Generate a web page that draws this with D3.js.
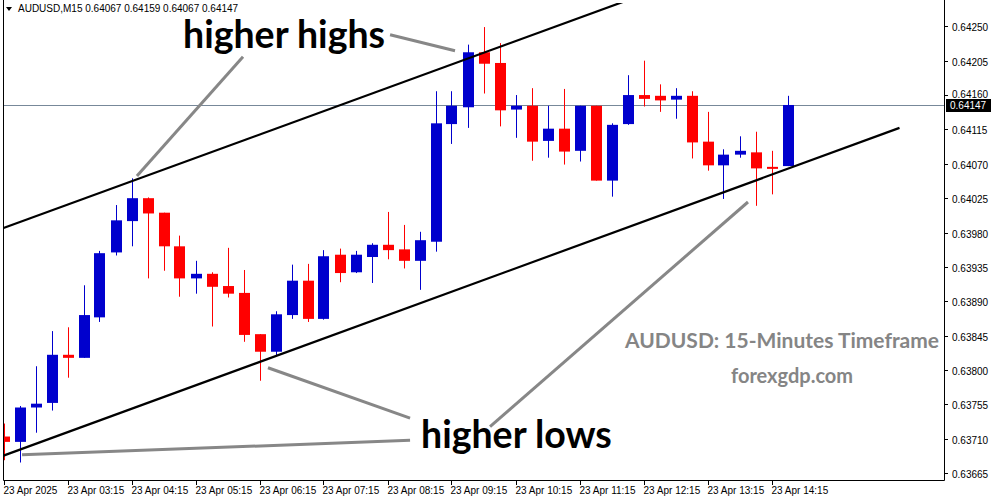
<!DOCTYPE html>
<html><head><meta charset="utf-8">
<script src="https://cdn.jsdelivr.net/npm/d3@7/dist/d3.min.js"></script>
<style>
html,body{margin:0;padding:0;background:#fff;}
svg{display:block;}
.ax{font-family:"Liberation Sans Narrow","Liberation Sans",Arial,sans-serif;font-size:10px;fill:#000;}
</style></head>
<body>
<svg id="c" width="991" height="501"></svg>
<script>
// ---- data (AUDUSD M15, 23 Apr 2025) ----
const barIndex = d3.range(50);
const open  = [0.63713,0.63706,0.63751,0.63757,0.63820,0.63816,0.63869,0.63954,0.63995,0.64025,
               0.64006,0.63962,0.63920,0.63926,0.63910,0.63901,0.63847,0.63824,0.63872,0.63917,
               0.63867,0.63951,0.63928,0.63948,0.63964,0.63958,0.63943,0.63968,0.64122,0.64144,
               0.64216,0.64202,0.64141,0.64146,0.64100,0.64116,0.64087,0.64146,0.64048,0.64122,
               0.64160,0.64159,0.64154,0.64159,0.64099,0.64068,0.64082,0.64085,0.64066,0.64067];
const high  = [0.63730,0.63753,0.63805,0.63851,0.63856,0.63911,0.63956,0.64016,0.64051,0.64026,
               0.64006,0.63976,0.63943,0.63928,0.63960,0.63931,0.63847,0.63877,0.63938,0.63939,
               0.63957,0.63959,0.63956,0.63966,0.64007,0.63990,0.63981,0.64165,0.64165,0.64226,
               0.64249,0.64228,0.64160,0.64169,0.64146,0.64168,0.64146,0.64146,0.64123,0.64186,
               0.64205,0.64174,0.64169,0.64165,0.64138,0.64089,0.64106,0.64112,0.64087,0.64159];
const low   = [0.63682,0.63679,0.63718,0.63747,0.63790,0.63816,0.63863,0.63950,0.63962,0.63920,
               0.63930,0.63896,0.63900,0.63857,0.63895,0.63837,0.63786,0.63818,0.63867,0.63863,
               0.63866,0.63915,0.63927,0.63914,0.63945,0.63933,0.63905,0.63955,0.64096,0.64117,
               0.64162,0.64119,0.64104,0.64074,0.64078,0.64069,0.64073,0.64048,0.64027,0.64121,
               0.64145,0.64138,0.64129,0.64077,0.64061,0.64024,0.64078,0.64015,0.64030,0.64067];
const close = [0.63706,0.63751,0.63756,0.63820,0.63816,0.63872,0.63953,0.63996,0.64025,0.64005,
               0.63962,0.63920,0.63926,0.63909,0.63900,0.63846,0.63824,0.63873,0.63917,0.63867,
               0.63949,0.63927,0.63951,0.63964,0.63957,0.63943,0.63970,0.64123,0.64146,0.64216,
               0.64201,0.64140,0.64146,0.64099,0.64116,0.64086,0.64146,0.64048,0.64121,0.64160,
               0.64155,0.64153,0.64159,0.64098,0.64068,0.64082,0.64087,0.64064,0.64064,0.64147];
const priceTicks = [0.64250,0.64205,0.64160,0.64115,0.64070,0.64025,0.63980,0.63935,0.63890,0.63845,0.63800,0.63755,0.63710,0.63665];
const timeTickIdx = [0,4,8,12,16,20,24,28,32,36,40,44,48];
const timeLabels = ["23 Apr 2025","23 Apr 03:15","23 Apr 04:15","23 Apr 05:15","23 Apr 06:15","23 Apr 07:15",
                    "23 Apr 08:15","23 Apr 09:15","23 Apr 10:15","23 Apr 11:15","23 Apr 12:15","23 Apr 13:15","23 Apr 14:15"];
const lastPrice = 0.64147;
const headerText = "AUDUSD,M15  0.64067 0.64159 0.64067 0.64147";
// trend channel lines [barIndex, price]
const upperLine = [[0,0.63986],[56,0.64414]];
const lowerLine = [[0,0.63688],[56,0.64117]];
// annotation pointer lines [barIndex, price]
const pointers = [
  [[14.97,0.64210],[8.34,0.64054]],
  [[24.16,0.64239],[28.22,0.64218]],
  [[16.53,0.63803],[25.41,0.63737]],
  [[1.16,0.63689],[25.41,0.63708]],
  [[30.41,0.63726],[46.53,0.64020]]
];
const labels = [
  {t:"higher highs", x:183, y:48, size:37.5, fill:"#000"},
  {t:"higher lows", x:421, y:448, size:37.5, fill:"#000"},
  {t:"AUDUSD: 15-Minutes Timeframe", x:625, y:348, size:21, fill:"#858585"},
  {t:"forexgdp.com", x:731, y:383, size:20, fill:"#858585"}
];

// ---- layout ----
const L = 3, R = 944, T = 3, B = 480;
const svg = d3.select("#c");
svg.append("rect").attr("width",991).attr("height",501).attr("fill","#fff");

const x = d3.scaleLinear().domain([-0.03125, 58.78125]).range([L, R]);
const y = d3.scaleLinear().domain([0.63665, 0.64250]).range([473.2, 26.3]);

svg.append("clipPath").attr("id","clip").append("rect")
  .attr("x",L).attr("y",T).attr("width",R-L).attr("height",B-T);

const plot = svg.append("g").attr("clip-path","url(#clip)");

// current price line
plot.append("line").attr("x1",L).attr("x2",R)
  .attr("y1",Math.round(y(lastPrice))+0.5).attr("y2",Math.round(y(lastPrice))+0.5)
  .attr("stroke","#778899").attr("stroke-width",1);

// candles
const bars = barIndex.map(i=>({i,o:open[i],h:high[i],l:low[i],c:close[i]}));
const col = d => d.c >= d.o ? "#0000CD" : "#FF0000";
const cg = plot.append("g");
cg.selectAll("line.w").data(bars).join("line")
  .attr("x1",d=>Math.round(x(d.i))+0.5).attr("x2",d=>Math.round(x(d.i))+0.5)
  .attr("y1",d=>y(d.h)).attr("y2",d=>y(d.l))
  .attr("stroke",col).attr("stroke-width",1);
cg.selectAll("rect").data(bars).join("rect")
  .attr("x",d=>Math.round(x(d.i))-5).attr("width",11)
  .attr("y",d=>y(Math.max(d.o,d.c)))
  .attr("height",d=>Math.max(2, y(Math.min(d.o,d.c))-y(Math.max(d.o,d.c))))
  .attr("fill",col);

// trend lines
const lineGen = d3.line().x(d=>x(d[0])).y(d=>y(d[1]));
[upperLine, lowerLine].forEach(ln=>{
  plot.append("path").attr("d",lineGen(ln)).attr("fill","none")
    .attr("stroke","#000").attr("stroke-width",2.2);
});
// pointers
pointers.forEach(p=>{
  plot.append("path").attr("d",lineGen(p)).attr("fill","none")
    .attr("stroke","#878787").attr("stroke-width",3);
});

// annotation text
labels.forEach(l=>{
  svg.append("text").attr("x",l.x).attr("y",l.y).text(l.t)
    .attr("font-family","Lato, 'Open Sans', sans-serif").attr("font-weight","bold")
    .attr("font-size",l.size).attr("fill",l.fill);
});

// frame
svg.append("path").attr("d",`M${L+0.5},0 V${B+0.5} H${R+0.5} V0`)
  .attr("fill","none").attr("stroke","#000").attr("stroke-width",1);

// price axis
const pa = svg.append("g");
priceTicks.forEach(p=>{
  const yy = Math.round(y(p))+0.5;
  pa.append("line").attr("x1",R+1).attr("x2",R+4).attr("y1",yy).attr("y2",yy).attr("stroke","#000");
  pa.append("text").attr("class","ax").attr("x",952).attr("y",yy+(p===0.64160?2:4)).text(p.toFixed(5));
});
// last price box
const ly = Math.round(y(lastPrice));
svg.append("rect").attr("x",R+2).attr("y",ly-6).attr("width",991-R-2).attr("height",13).attr("fill","#000");
svg.append("text").attr("class","ax").attr("x",950).attr("y",ly+4).style("fill","#fff").text(lastPrice.toFixed(5));

// time axis
const ta = svg.append("g");
timeTickIdx.forEach((idx,k)=>{
  const xx = Math.round(x(idx))+0.5;
  ta.append("line").attr("x1",xx).attr("x2",xx).attr("y1",B+1).attr("y2",B+5).attr("stroke","#000");
  ta.append("text").attr("class","ax").attr("x",xx-1).attr("y",494).text(timeLabels[k]);
});

// header
svg.append("path").attr("d","M6,7 L12,7 L9,11 Z").attr("fill","#000");
svg.append("text").attr("class","ax").attr("x",18).attr("y",12).text(headerText);
</script>
</body></html>
